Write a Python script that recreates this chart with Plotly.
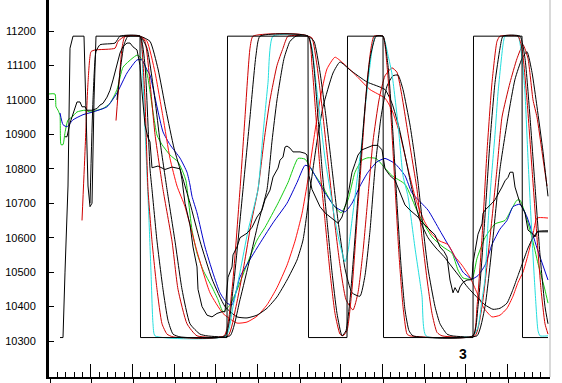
import plotly.graph_objects as go

# ---------------- data (x = bar index, y = value) ----------------
square_x = [60, 63, 65, 68, 70, 73, 84, 86, 88, 90, 92, 94, 96, 140, 140.5, 227, 227.5, 308, 308.5, 347, 347.5,
            383, 383.5, 473, 473.5, 522, 522.5, 548]
square_y = [10310, 10310, 10500, 10750, 11150, 11185, 11185, 11000, 10750, 10690, 10700, 11000, 11185, 11185, 10310,
            10310, 11185, 11185, 10310, 10310, 11185, 11185, 10310, 10310, 11185, 11185, 10310, 10310]

price_x = [65, 67, 70, 73, 77, 80, 82, 85, 87, 92, 97, 100, 103, 107, 110, 113, 115, 118, 120, 123, 127, 130, 133,
           137, 140, 142, 145, 148, 150, 152, 158, 165, 172, 180, 182, 185, 190, 193, 197, 198, 202, 207, 212, 217,
           222, 225, 227, 228, 232, 233, 237, 240, 247, 252, 257, 262, 265, 270, 273, 278, 280, 283, 285, 287, 290,
           293, 300, 305, 307, 309, 312, 316, 320, 325, 330, 335, 338, 342, 346, 349, 352, 355, 358, 362, 368, 373,
           378, 382, 385, 390, 395, 400, 405, 410, 418, 422, 427, 432, 435, 440, 444, 447, 450, 453, 455, 458, 460,
           463, 467, 472, 473, 475, 478, 482, 483, 485, 488, 492, 495, 498, 502, 505, 508, 510, 513, 515, 520, 525,
           528, 533, 535, 537, 548]
price_y = [10893, 10893, 10933, 10962, 10994, 10994, 10980, 10980, 10970, 10970, 10975, 10985, 10990, 11008, 11028,
           11058, 11081, 11107, 11136, 11155, 11165, 11165, 11154, 11145, 11100, 11023, 10927, 10890, 10878, 10803,
           10808, 10798, 10805, 10800, 10768, 10700, 10637, 10573, 10515, 10450, 10400, 10375, 10370, 10380, 10385,
           10385, 10440, 10485, 10515, 10550, 10573, 10600, 10613, 10630, 10660, 10680, 10710, 10738, 10776, 10802,
           10825, 10834, 10863, 10866, 10860, 10849, 10849, 10845, 10840, 10780, 10740, 10715, 10690, 10672, 10660,
           10650, 10642, 10660, 10700, 10740, 10790, 10815, 10840, 10855, 10863, 10868, 10868, 10855, 10800, 10780,
           10767, 10730, 10695, 10680, 10660, 10645, 10630, 10615, 10608, 10573, 10560, 10544, 10477, 10440, 10455,
           10440, 10457, 10470, 10477, 10478, 10526, 10560, 10610, 10640, 10670, 10680, 10688, 10700, 10710, 10725,
           10747, 10765, 10775, 10790, 10790, 10747, 10700, 10672, 10622, 10610, 10602, 10617, 10617]

cyan_x = [130, 140, 143, 146, 149, 151, 153, 155, 226, 233, 240, 248, 258, 263, 268, 273, 308, 312, 316, 320, 325,
          330, 335, 340, 345, 348, 352, 358, 362, 366, 370, 375, 383, 388, 392, 398, 403, 408, 415, 422, 426, 473,
          478, 482, 485, 488, 491, 495, 498, 503, 505, 518, 522, 525, 528, 532, 535, 538, 540, 548]
cyan_y = [11185, 11185, 11050, 10850, 10650, 10500, 10350, 10315, 10315, 10400, 10500, 10620, 10740, 10900, 11050,
          11185, 11185, 11150, 11050, 10950, 10830, 10740, 10650, 10580, 10530, 10560, 10650, 10790, 10880, 11000,
          11100, 11185, 11185, 11130, 11075, 10930, 10780, 10720, 10570, 10430, 10315, 10315, 10340, 10420, 10480,
          10640, 10760, 10900, 11020, 11160, 11185, 11185, 11120, 11020, 10830, 10600, 10450, 10330, 10315, 10315]

redA_x = [82, 85, 88, 91, 95, 115, 118, 125, 140, 142, 145, 148, 152, 157, 162, 167, 173, 224, 232, 240, 245, 250,
          253, 308, 312, 316, 320, 325, 330, 335, 340, 343, 347, 352, 357, 362, 367, 371, 374, 383, 387, 391, 395,
          399, 403, 407, 410, 473, 477, 482, 487, 492, 497, 500, 518, 522, 527, 532, 537, 541, 545, 548]
redA_y = [10650, 10850, 11050, 11140, 11145, 11150, 11170, 11185, 11185, 11150, 11000, 10740, 10590, 10450, 10350,
          10320, 10312, 10315, 10450, 10740, 10950, 11150, 11185, 11185, 11100, 10950, 10800, 10650, 10500, 10380,
          10320, 10315, 10330, 10450, 10650, 10850, 11050, 11150, 11185, 11185, 11100, 10950, 10750, 10550, 10400,
          10320, 10315, 10315, 10400, 10600, 10850, 11050, 11170, 11185, 11185, 11150, 11000, 10800, 10600, 10450,
          10350, 10320]

blackA_x = [90, 93, 96, 100, 115, 120, 140, 145, 150, 152, 157, 163, 168, 173, 180, 225, 233, 243, 250, 256, 260,
            308, 313, 318, 322, 327, 332, 337, 342, 346, 350, 355, 360, 365, 370, 376, 383, 388, 393, 397, 401, 405,
            409, 413, 473, 478, 484, 490, 495, 500, 503, 520, 525, 530, 535, 540, 545, 548]
blackA_y = [10700, 11000, 11140, 11160, 11165, 11185, 11185, 11100, 10800, 10740, 10590, 10450, 10360, 10320, 10312,
            10315, 10450, 10740, 10950, 11130, 11185, 11185, 11120, 10950, 10800, 10650, 10500, 10380, 10315, 10330,
            10420, 10600, 10800, 10980, 11120, 11185, 11185, 11100, 10900, 10700, 10520, 10390, 10330, 10315, 10315,
            10400, 10620, 10880, 11050, 11150, 11185, 11185, 11120, 10950, 10750, 10550, 10400, 10350]

redB_x = [116, 119, 122, 125, 140, 145, 150, 155, 163, 172, 178, 187, 197, 228, 236, 244, 251, 258, 264, 270, 277,
          283, 288, 308, 312, 317, 322, 328, 334, 340, 346, 353, 358, 363, 368, 373, 379, 385, 392, 397, 402, 407,
          412, 417, 422, 427, 432, 437, 442, 475, 482, 490, 497, 502, 510, 517, 523, 528, 533, 537, 542, 547]
redB_y = [10940, 11050, 11150, 11185, 11185, 11170, 11050, 10900, 10740, 10590, 10450, 10350, 10315, 10315, 10400,
          10520, 10640, 10740, 10880, 11000, 11100, 11150, 11185, 11185, 11180, 11100, 10980, 10820, 10660, 10520,
          10420, 10390, 10440, 10560, 10720, 10880, 11000, 11070, 11093, 11080, 11010, 10920, 10830, 10740, 10600,
          10480, 10380, 10325, 10315, 10315, 10400, 10600, 10800, 10950, 11050, 11120, 11160, 11120, 11000, 10950,
          10850, 10750]

blackB_x = [117, 120, 124, 128, 140, 147, 155, 160, 167, 175, 182, 190, 200, 207, 230, 240, 250, 258, 267, 272, 277,
            284, 290, 296, 308, 314, 320, 326, 332, 338, 345, 352, 360, 365, 370, 375, 381, 387, 393, 398, 403, 410,
            414, 418, 423, 428, 435, 440, 447, 452, 477, 485, 493, 500, 508, 515, 522, 527, 532, 537, 543, 548]
blackB_y = [11000, 11080, 11160, 11185, 11185, 11150, 11000, 10880, 10740, 10590, 10450, 10350, 10320, 10315, 10315,
            10420, 10540, 10640, 10740, 10880, 11000, 11120, 11170, 11185, 11185, 11170, 11080, 10950, 10800, 10650,
            10510, 10440, 10430, 10490, 10620, 10800, 10950, 11040, 11070, 11072, 11030, 10927, 10850, 10762, 10630,
            10510, 10400, 10350, 10320, 10315, 10315, 10400, 10600, 10800, 10950, 11060, 11120, 11140, 11080, 10980,
            10850, 10720]

redS_x = [125, 140, 147, 155, 163, 170, 177, 185, 197, 210, 223, 237, 247, 257, 267, 277, 287, 295, 302, 308, 314,
          320, 327, 335, 343, 357, 370, 385, 392, 400, 408, 416, 424, 432, 440, 448, 455, 462, 470, 477, 484, 492,
          500, 507, 513, 518, 523, 528, 533, 537, 548]
redS_y = [11185, 11185, 11170, 11080, 10950, 10830, 10750, 10690, 10560, 10440, 10380, 10352, 10355, 10372, 10405,
          10455, 10520, 10590, 10670, 10770, 10890, 11000, 11090, 11124, 11107, 11068, 11030, 11005, 10970, 10900,
          10800, 10710, 10650, 10610, 10590, 10580, 10545, 10520, 10485, 10440, 10395, 10370, 10375, 10395, 10430,
          10470, 10500, 10550, 10610, 10657, 10657]

blackS_x = [125, 140, 150, 158, 166, 174, 182, 190, 200, 212, 225, 237, 247, 257, 267, 277, 287, 297, 303, 310, 317,
            323, 333, 340, 350, 367, 385, 392, 399, 405, 412, 420, 428, 436, 444, 452, 460, 468, 476, 485, 493, 500,
            507, 513, 518, 523, 528, 533, 538, 548]
blackS_y = [11185, 11185, 11170, 11090, 10970, 10860, 10780, 10700, 10590, 10480, 10400, 10370, 10367, 10375, 10395,
            10428, 10477, 10535, 10593, 10738, 10880, 10980, 11078, 11110, 11087, 11052, 11030, 10990, 10920, 10840,
            10740, 10650, 10600, 10570, 10545, 10515, 10485, 10455, 10430, 10405, 10392, 10395, 10410, 10450, 10490,
            10530, 10570, 10600, 10618, 10620]

green_x = [48, 55, 56, 58, 60, 61, 63, 65, 68, 72, 77, 85, 90, 97, 103, 110, 117, 123, 132, 137, 140, 145, 148, 153,
           157, 162, 170, 178, 183, 186, 188, 192, 197, 203, 212, 218, 223, 230, 237, 248, 257, 265, 278, 288, 298,
           305, 313, 322, 332, 341, 348, 355, 362, 368, 376, 385, 392, 405, 418, 432, 443, 452, 458, 463, 472, 477,
           485, 495, 505, 512, 517, 520, 525, 532, 538, 545, 548]
green_y = [11017, 11017, 10980, 10970, 10955, 10870, 10870, 10905, 10942, 10950, 10965, 10970, 10965, 10970, 10975,
           10990, 11030, 11095, 11120, 11130, 11125, 11100, 11063, 10965, 10898, 10870, 10840, 10820, 10790, 10765,
           10720, 10622, 10555, 10506, 10457, 10420, 10385, 10405, 10448, 10530, 10593, 10630, 10700, 10760, 10830,
           10828, 10790, 10752, 10700, 10672, 10710, 10790, 10825, 10832, 10830, 10802, 10780, 10755, 10672, 10602,
           10573, 10555, 10506, 10483, 10480, 10540, 10600, 10640, 10650, 10685, 10709, 10709, 10672, 10600, 10525,
           10448, 10410]

blue_x = [60, 63, 67, 73, 83, 93, 107, 117, 127, 137, 142, 147, 150, 157, 163, 170, 180, 187, 190, 192, 197, 205,
          213, 220, 227, 232, 240, 257, 273, 287, 297, 305, 310, 317, 325, 335, 345, 352, 360, 368, 377, 385, 395,
          405, 412, 428, 440, 452, 463, 472, 478, 485, 492, 500, 507, 513, 520, 527, 537, 548]
blue_y = [10962, 10928, 10922, 10942, 10957, 10965, 10980, 11020, 11078, 11116, 11116, 11087, 11072, 10980, 10907,
          10870, 10831, 10790, 10753, 10720, 10672, 10573, 10497, 10440, 10410, 10405, 10486, 10570, 10643, 10700,
          10760, 10810, 10805, 10770, 10730, 10690, 10675, 10700, 10750, 10790, 10820, 10830, 10815, 10780, 10730,
          10680, 10620, 10560, 10500, 10480, 10490, 10520, 10580, 10625, 10650, 10690, 10697, 10660, 10570, 10477]

y_ticks = [10300, 10400, 10500, 10600, 10700, 10800, 10900, 11000, 11100, 11200]
marker_label = "3"

# ---------------- figure ----------------
fig = go.Figure()

def add(x, y, color, smooth=True):
    fig.add_trace(go.Scatter(
        x=x, y=y, mode="lines",
        line=dict(color=color, width=1, shape="spline" if smooth else "linear",
                  smoothing=0.5 if smooth else None),
        hoverinfo="skip", showlegend=False))

add(green_x, green_y, "#14cc14")
add(blue_x, blue_y, "#0000cc")
add(redS_x, redS_y, "#ff1010")
add(blackS_x, blackS_y, "#000000")
add(redB_x, redB_y, "#c80000")
add(blackB_x, blackB_y, "#000000")
add(cyan_x, cyan_y, "#22dede")
add(redA_x, redA_y, "#d00000")
add(blackA_x, blackA_y, "#000000")
add(price_x, price_y, "#000000", smooth=False)
add(square_x, square_y, "#000000", smooth=False)

# dummy trace for the secondary x axis (outside tick marks)
fig.add_trace(go.Scatter(x=[None], y=[None], xaxis="x2", showlegend=False, hoverinfo="skip"))

fig.add_annotation(x=463, y=10262, text="<b>" + marker_label + "</b>", showarrow=False,
                   font=dict(family="Liberation Sans, Arial", size=14, color="#000000"))

fig.add_shape(type="line", xref="paper", yref="paper", x0=1.0, x1=1.0, y0=0, y1=1,
              line=dict(color="#d9d9d9", width=2))

fig.update_layout(
    width=562, height=383,
    margin=dict(l=49, r=12, t=0, b=6, pad=0, autoexpand=False),
    paper_bgcolor="white", plot_bgcolor="white",
    hovermode=False,
    font=dict(family="Liberation Sans, Arial", size=11, color="#000000"),
    xaxis=dict(range=[49, 550], showgrid=False, zeroline=False, showline=True, linecolor="#000000",
               linewidth=2, ticks="inside", ticklen=13, tickcolor="#000000", tickwidth=1, automargin=False,
               tickmode="linear", tick0=49.3, dtick=41.667, showticklabels=False,
               minor=dict(ticks="inside", ticklen=5, tickcolor="#000000", tick0=49.3, dtick=8.3334)),
    xaxis2=dict(range=[49, 550], overlaying="x", anchor="y", side="bottom", showgrid=False, automargin=False,
                zeroline=False, showline=False, ticks="outside", ticklen=5, tickcolor="#000000",
                tickmode="linear", tick0=50.3, dtick=41.667, showticklabels=False),
    yaxis=dict(range=[10195.5, 11290], showgrid=False, zeroline=False, showline=True, linecolor="#000000",
               linewidth=3, ticks="inside", ticklen=5, tickcolor="#000000", tickvals=y_ticks, automargin=False,
               ticktext=[str(v) for v in y_ticks], ticklabelstandoff=8,
               tickfont=dict(family="Liberation Sans, Arial", size=11, color="#000000")),
)

fig.write_html("out.html", config={"displayModeBar": False, "staticPlot": True},
               post_script="document.body.style.margin='0';document.body.style.overflow='hidden';")
